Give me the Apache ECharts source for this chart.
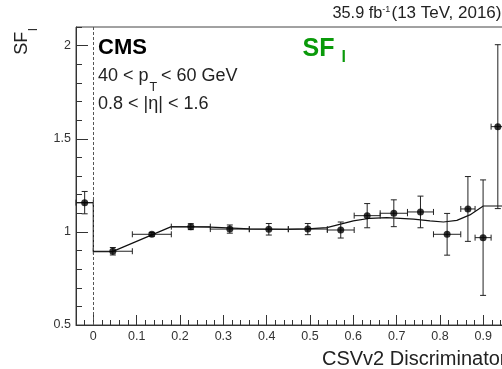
<!DOCTYPE html>
<html><head><meta charset="utf-8">
<script src="https://cdn.jsdelivr.net/npm/echarts@6/dist/echarts.min.js"></script>
<style>html,body{margin:0;padding:0;background:#fff}#c{width:502px;height:369px}</style>
</head><body><div id="c"></div>
<script>
// ---- data ----
const binEdges = [-0.04, 0, 0.09, 0.18, 0.27, 0.36, 0.45, 0.54, 0.602, 0.662, 0.725, 0.785, 0.848, 0.881, 0.918, 0.949];
const sfValues = [1.157, 0.896, 0.987, 1.028, 1.015, 1.014, 1.015, 1.010, 1.087, 1.100, 1.107, 0.987, 1.123, 0.969, 1.565];
const sfErrors = [0.060, 0.020, 0.010, 0.016, 0.022, 0.031, 0.030, 0.043, 0.065, 0.072, 0.085, 0.112, 0.174, 0.310, 0.440];
const fitX = [-0.04, 0, 0, 0.044, 0.18, 0.27, 0.36, 0.45, 0.495, 0.539, 0.60, 0.639, 0.677, 0.739, 0.777, 0.808, 0.839, 0.869, 0.90, 0.96];
const fitY = [1.157, 1.157, 0.894, 0.894, 1.028, 1.026, 1.016, 1.013, 1.016, 1.023, 1.059, 1.073, 1.076, 1.068, 1.059, 1.053, 1.062, 1.091, 1.139, 1.139];
const xTickLabels = [0, 0.1, 0.2, 0.3, 0.4, 0.5, 0.6, 0.7, 0.8, 0.9];
const yTickLabels = [0.5, 1, 1.5, 2];

// ---- build ----
const FONT = '"Liberation Sans", Arial, Helvetica, sans-serif';
const errData = sfValues.map((v, i) => [binEdges[i], binEdges[i + 1], v, sfErrors[i]]);
const ptData = sfValues.map((v, i) => [(binEdges[i] + binEdges[i + 1]) / 2, v]);
const fitData = fitX.map((x, i) => [x, fitY[i]]);

const chart = echarts.init(document.getElementById('c'), null, {renderer: 'canvas'});
const axisCol = '#333';
const labelStyle = {fontFamily: FONT, fontSize: 12.5, color: '#333'};
function fmt(v) { return String(Math.round(v * 100) / 100); }

function txt(text, x, y, size, opts) {
  opts = opts || {};
  return {
    type: 'text', x: x, y: y, rotation: opts.rot || 0, silent: true,
    style: {
      text: text, x: 0, y: 0, fill: opts.color || '#222',
      font: (opts.bold ? 'bold ' : '') + size + 'px ' + FONT,
      align: opts.align || 'left', verticalAlign: 'middle'
    }
  };
}

chart.setOption({
  animation: false,
  backgroundColor: '#fff',
  grid: {left: 76, top: 27, width: 433.3, height: 298, outerBoundsMode: 'none', containLabel: false,
         show: true, borderColor: '#444', borderWidth: 1, backgroundColor: 'transparent'},
  xAxis: [
    {type: 'value', min: -0.04, max: 0.96, position: 'bottom',
     axisLine: {show: true, onZero: false, lineStyle: {color: axisCol, width: 1}},
     axisTick: {show: true, inside: true, length: 10, customValues: xTickLabels, lineStyle: {color: axisCol}},
     axisLabel: Object.assign({show: true, margin: 5, customValues: xTickLabels, formatter: fmt}, labelStyle),
     splitLine: {show: false}},
    {type: 'value', min: -0.04, max: 0.96, interval: 0.02, position: 'bottom',
     axisLine: {show: false, onZero: false},
     axisTick: {show: true, inside: true, length: 5, lineStyle: {color: axisCol}},
     axisLabel: {show: false}, splitLine: {show: false}}
  ],
  yAxis: [
    {type: 'value', min: 0.5, max: 2.1, position: 'left',
     axisLine: {show: true, onZero: false, lineStyle: {color: axisCol, width: 1}},
     axisTick: {show: true, inside: true, length: 12, customValues: yTickLabels, lineStyle: {color: axisCol}},
     axisLabel: Object.assign({show: true, margin: 5, customValues: yTickLabels, formatter: fmt}, labelStyle),
     splitLine: {show: false}},
    {type: 'value', min: 0.5, max: 2.1, interval: 0.1, position: 'left',
     axisLine: {show: false, onZero: false},
     axisTick: {show: true, inside: true, length: 6, lineStyle: {color: axisCol}},
     axisLabel: {show: false}, splitLine: {show: false}}
  ],
  series: [
    {type: 'line', xAxisIndex: 0, yAxisIndex: 0, data: fitData, showSymbol: false, symbol: 'none',
     lineStyle: {color: '#111', width: 1.2}, z: 3,
     markLine: {silent: true, symbol: 'none', label: {show: false},
       lineStyle: {type: [3, 2], color: '#555', width: 1},
       data: [{xAxis: 0}]}},
    {type: 'custom', xAxisIndex: 0, yAxisIndex: 0, data: errData, z: 4,
     encode: {x: [0, 1], y: 2},
     renderItem: function (params, api) {
       const lo = api.value(0), hi = api.value(1), yv = api.value(2), e = api.value(3);
       const xc = (lo + hi) / 2;
       const L = api.coord([lo, yv]), R = api.coord([hi, yv]);
       const T = api.coord([xc, yv + e]), B = api.coord([xc, yv - e]);
       const c = 3;
       const st = {stroke: '#222', lineWidth: 1};
       const seg = (x1, y1, x2, y2) => ({type: 'line', shape: {x1: x1, y1: y1, x2: x2, y2: y2}, style: st});
       return {type: 'group', children: [
         seg(L[0], L[1], R[0], R[1]),
         seg(L[0], L[1] - c, L[0], L[1] + c),
         seg(R[0], R[1] - c, R[0], R[1] + c),
         seg(T[0], T[1], B[0], B[1]),
         seg(T[0] - c, T[1], T[0] + c, T[1]),
         seg(B[0] - c, B[1], B[0] + c, B[1])
       ]};
     }},
    {type: 'scatter', xAxisIndex: 0, yAxisIndex: 0, data: ptData, symbol: 'circle', symbolSize: 7,
     itemStyle: {color: '#000'}, z: 5}
  ],
  graphic: [
    txt('35.9 fb', 332.5, 13.3, 16.3),
    txt('-1', 382.3, 9.5, 9),
    txt('(13 TeV, 2016)', 391.5, 13.3, 17),
    txt('CMS', 98, 47.5, 22, {bold: true, color: '#000'}),
    txt('40 < p', 98, 76.5, 18),
    txt('T', 149.5, 87.5, 12.5),
    txt('< 60 GeV', 161, 76.5, 18),
    txt('0.8 < |\u03B7| < 1.6', 98, 104, 18),
    txt('SF', 302.5, 49.2, 25, {bold: true, color: '#0a9a0a'}),
    txt('l', 341.5, 58, 16, {bold: true, color: '#0a9a0a'}),
    txt('SF', 22.5, 54.7, 18, {rot: Math.PI / 2}),
    txt('l', 34, 31, 12.5, {rot: Math.PI / 2}),
    txt('CSVv2 Discriminator', 322, 359.7, 20)
  ]
});
</script>
</body></html>
